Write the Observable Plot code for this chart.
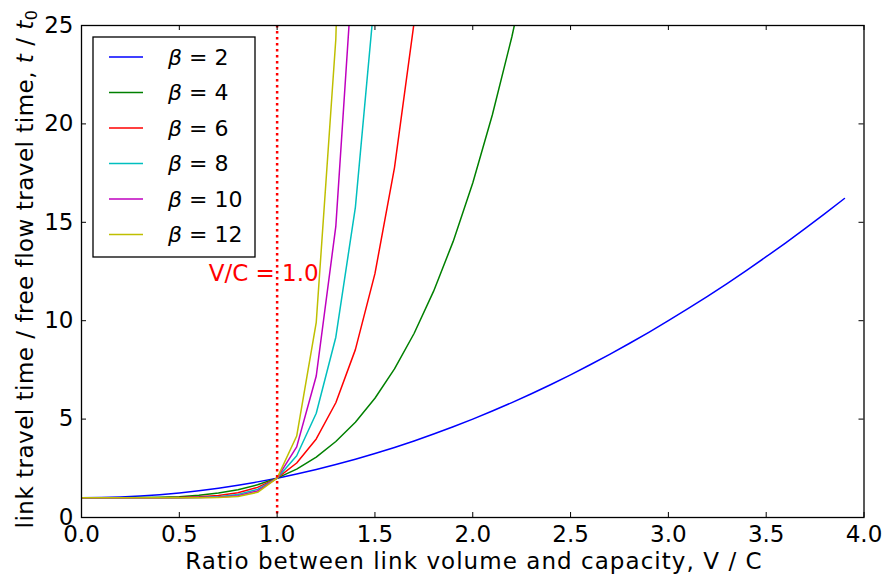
<!DOCTYPE html>
<html>
<head>
<meta charset="utf-8">
<script src="https://cdn.jsdelivr.net/npm/d3@7"></script>
<script src="https://cdn.jsdelivr.net/npm/@observablehq/plot@0.6"></script>
<style>
  html, body { margin: 0; padding: 0; background: #fff; }
  svg { font-family: "DejaVu Sans", sans-serif; }
</style>
</head>
<body>
<div id="chart"></div>
<script>
// V/C ratio sample points
const vc = [0.0,0.1,0.2,0.3,0.4,0.5,0.6,0.7,0.8,0.9,1.0,1.1,1.2,1.3,1.4,1.5,1.6,1.7,1.8,1.9,
            2.0,2.1,2.2,2.3,2.4,2.5,2.6,2.7,2.8,2.9,3.0,3.1,3.2,3.3,3.4,3.5,3.6,3.7,3.8,3.9];
// t / t0 for each beta (lines beyond 25 are clipped)
const beta2 = [1.00,1.01,1.04,1.09,1.16,1.25,1.36,1.49,1.64,1.81,2.00,2.21,2.44,2.69,2.96,3.25,3.56,3.89,4.24,4.61,
               5.00,5.41,5.84,6.29,6.76,7.25,7.76,8.29,8.84,9.41,10.00,10.61,11.24,11.89,12.56,13.25,13.96,14.69,15.44,16.21];
const beta4 = [1.00,1.00,1.00,1.01,1.03,1.06,1.13,1.24,1.41,1.66,2.00,2.46,3.07,3.86,4.84,6.06,7.55,9.35,11.50,14.03,17.00,20.45,24.43,28.98];
const beta6 = [1.00,1.00,1.00,1.00,1.00,1.02,1.05,1.12,1.26,1.53,2.00,2.77,3.99,5.83,8.53,12.39,17.78,25.14];
const beta8 = [1.00,1.00,1.00,1.00,1.00,1.00,1.02,1.06,1.17,1.43,2.00,3.14,5.30,9.16,15.76,26.63];
const beta10 = [1.00,1.00,1.00,1.00,1.00,1.00,1.01,1.03,1.11,1.35,2.00,3.59,7.19,14.79,29.93];
const beta12 = [1.00,1.00,1.00,1.00,1.00,1.00,1.00,1.01,1.07,1.28,2.00,4.14,9.92,24.30,57.69];

const betas = [2, 4, 6, 8, 10, 12];
const colors = ["#0000ff", "#008000", "#ff0000", "#00bfbf", "#bf00bf", "#bfbf00"];
const xTicks = [0.0, 0.5, 1.0, 1.5, 2.0, 2.5, 3.0, 3.5, 4.0];
const yTicks = [0, 5, 10, 15, 20, 25];
const capacityLine = [1.0];
const annotation = [{vc: 0.65, t: 12, text: "V/C = 1.0"}];

const series = [beta2, beta4, beta6, beta8, beta10, beta12];
const rows = series.flatMap((s, i) => s.map((t, j) => ({vc: vc[j], t, beta: betas[i]})));

const W = 885, H = 580;
const mL = 81, mR = 21.5, mT = 25, mB = 63;
const innerH = H - mT - mB, innerW = W - mL - mR;

const chart = Plot.plot({
  width: W, height: H,
  marginLeft: mL, marginRight: mR, marginTop: mT, marginBottom: mB,
  style: {fontFamily: "DejaVu Sans", background: "white"},
  x: {domain: [0, 4]},
  y: {domain: [0, 25]},
  color: {domain: betas, range: colors},
  marks: [
    Plot.line(rows, {x: "vc", y: "t", z: "beta", stroke: "beta", strokeWidth: 1.5, clip: true}),
    Plot.ruleX(capacityLine, {stroke: "#ff0000", strokeWidth: 2.5, strokeDasharray: "2.5,3.5"}),
    Plot.text(annotation, {x: "vc", y: "t", text: "text", fill: "#ff0000", fontSize: 23, textAnchor: "start", lineAnchor: "bottom"}),
    // inward ticks on all four sides
    Plot.tickX(xTicks, {x: d => d, insetTop: innerH - 5, stroke: "black"}),
    Plot.tickX(xTicks, {x: d => d, insetBottom: innerH - 5, stroke: "black"}),
    Plot.tickY(yTicks, {y: d => d, insetRight: innerW - 5, stroke: "black"}),
    Plot.tickY(yTicks, {y: d => d, insetLeft: innerW - 5, stroke: "black"}),
    Plot.axisX(xTicks, {tickSize: 0, tickPadding: 8, tickFormat: d => d.toFixed(1), fontSize: 23, label: null, fill: "black"}),
    Plot.axisY(yTicks, {tickSize: 0, tickPadding: 8, fontSize: 23, label: null, fill: "black"}),
    Plot.frame({stroke: "black", strokeWidth: 1.3})
  ]
});

document.getElementById("chart").appendChild(chart);

const svg = d3.select(chart);

// x-axis label
svg.append("text")
  .attr("x", 474).attr("y", 569)
  .attr("text-anchor", "middle").attr("font-size", 23).attr("letter-spacing", 1.05).attr("fill", "black")
  .text("Ratio between link volume and capacity, V / C");

// y-axis label with italic t / t0
const yl = svg.append("text")
  .attr("transform", `translate(33,${269}) rotate(-90)`)
  .attr("text-anchor", "middle").attr("font-size", 23).attr("letter-spacing", 0.5).attr("fill", "black");
yl.append("tspan").text("link travel time / free flow travel time, ");
yl.append("tspan").attr("font-style", "italic").text("t");
yl.append("tspan").text(" / ");
yl.append("tspan").attr("font-style", "italic").text("t");
yl.append("tspan").attr("font-size", 16).attr("dy", 4).text("0");

// legend
const lg = svg.append("g").attr("transform", `translate(${mL + 12},${mT + 12})`);
lg.append("rect").attr("x", 0).attr("y", 0).attr("width", 162).attr("height", 220)
  .attr("fill", "white").attr("stroke", "black").attr("stroke-width", 1.3);
betas.forEach((b, i) => {
  const cy = 20 + 35.5 * i;
  lg.append("line").attr("x1", 16).attr("x2", 50).attr("y1", cy).attr("y2", cy)
    .attr("stroke", colors[i]).attr("stroke-width", 1.5);
  const t = lg.append("text").attr("x", 75).attr("y", cy + 7.5).attr("font-size", 22)
    .attr("text-anchor", "start").attr("fill", "black");
  t.append("tspan").attr("font-style", "italic").text("β");
  t.append("tspan").text(" = " + b);
});
</script>
</body>
</html>
